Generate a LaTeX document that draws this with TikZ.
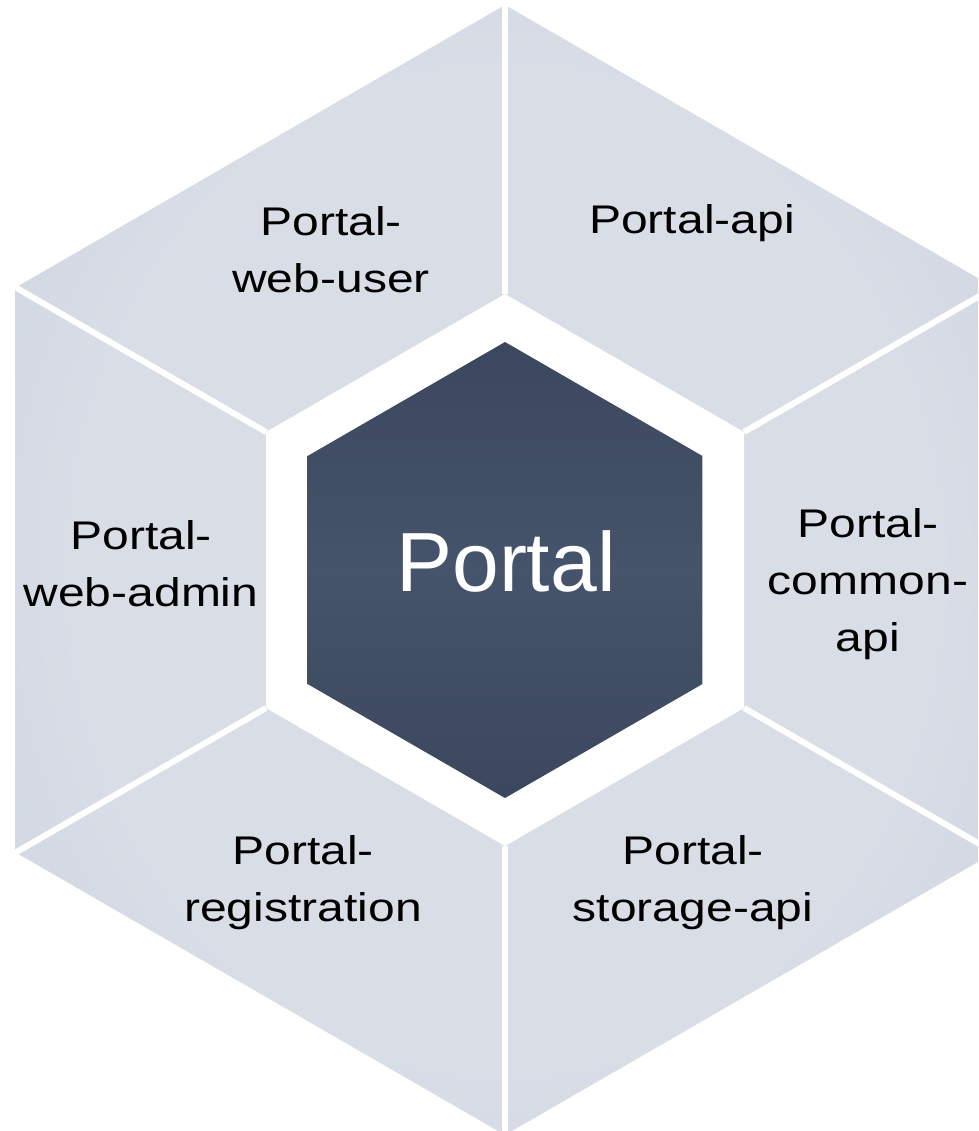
\documentclass[tikz,border=0pt]{standalone}
\usepackage{fontspec}
\setmainfont{Liberation Sans}
\newfontfamily\segfont[FakeStretch=1.2]{Liberation Sans}
\definecolor{segin}{HTML}{D8DDE6}
\definecolor{segout}{HTML}{C2CAD9}
\definecolor{hubedge}{HTML}{3B475D}
\definecolor{hubmid}{HTML}{45546B}
\pgfdeclareradialshading{segshade}{\pgfpoint{0bp}{0bp}}{color(0bp)=(segin); color(22bp)=(segin); color(50bp)=(segout)}
\begin{document}
\begin{tikzpicture}[x=1pt,y=-1pt,
  seglabel/.style={align=center, font=\segfont\fontsize{40}{57}\selectfont, text=black, inner sep=0pt},
  hublabel/.style={font=\fontsize{84}{90}\selectfont, text=white, inner sep=0pt},
  divider/.style={white, line width=6pt}]
\useasboundingbox (0,0) rectangle (978,1131);
\clip (0,0) rectangle (978,1131);
\coordinate (c) at (505,570);
% corners of the outer hexagon, the white ring and the hub
\foreach \k in {0,...,5}{
  \path (c) ++(30+60*\k:565) coordinate (o\k);
  \path (c) ++(30+60*\k:640) coordinate (e\k);
  \path (c) ++(30+60*\k:276) coordinate (r\k);
  \path (c) ++(30+60*\k:228) coordinate (h\k);
}
% six light segments
\shade[shading=segshade] (o0) -- (o1) -- (o2) -- (o3) -- (o4) -- (o5) -- cycle;
% white ring around the hub
\fill[white] (r0) -- (r1) -- (r2) -- (r3) -- (r4) -- (r5) -- cycle;
% separators between the segments
\foreach \k in {0,...,5}{
  \draw[divider] (r\k) -- (e\k);
}
% dark hub
\shade[top color=hubedge, bottom color=hubedge, middle color=hubmid]
  (h0) -- (h1) -- (h2) -- (h3) -- (h4) -- (h5) -- cycle;
\node[hublabel] (hub) at (506,561) {Portal};
% segment labels
\node[seglabel] (webuser) at (331,250) {Portal-\\web-user};
\node[seglabel] (api) at (692,223) {Portal-api};
\node[seglabel] (common) at (868,584) {Portal-\\common-\\api};
\node[seglabel] (webadmin) at (141,564) {Portal-\\web-admin};
\node[seglabel] (registration) at (303,883) {Portal-\\registration};
\node[seglabel] (storage) at (693,883) {Portal-\\storage-api};
\end{tikzpicture}
\end{document}
